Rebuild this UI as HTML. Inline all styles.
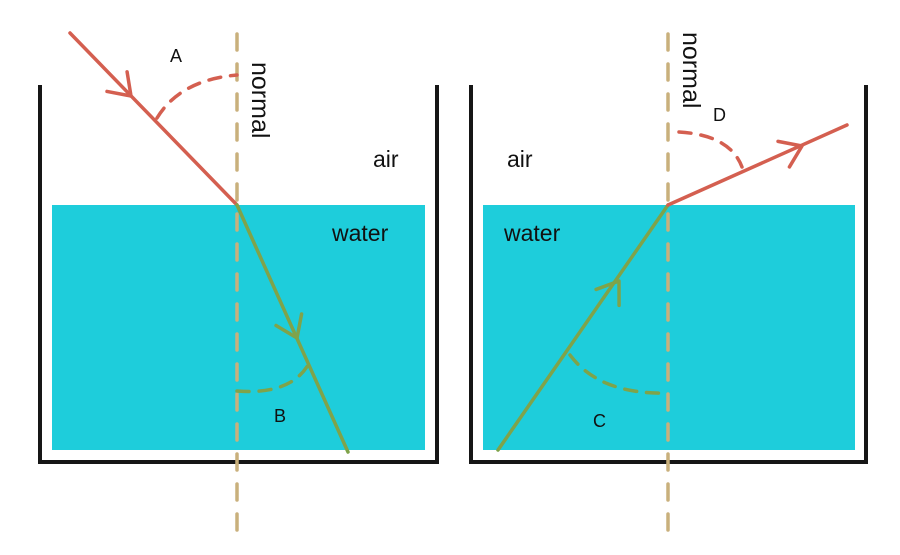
<!DOCTYPE html>
<html><head><meta charset="utf-8"><style>
html,body{margin:0;padding:0;background:#fff;width:900px;height:555px;overflow:hidden}
svg text{font-family:"Liberation Sans",sans-serif;fill:#111}
</style></head><body>
<svg width="900" height="555" viewBox="0 0 900 555">
<rect x="52" y="205" width="373" height="245" fill="#1ecddb"/>
<rect x="483" y="205" width="372" height="245" fill="#1ecddb"/>
<g fill="none" stroke="#161616" stroke-width="4">
<polyline points="40,85 40,462 437,462 437,85"/>
<polyline points="471,85 471,462 866,462 866,85"/>
</g>
<g stroke="#c9b07c" stroke-width="3.5" stroke-dasharray="16,14" fill="none" stroke-linecap="round">
<line x1="237" y1="34" x2="237" y2="538"/>
<line x1="668" y1="34" x2="668" y2="538"/>
</g>
<g fill="none" stroke-width="3.5" stroke-linecap="round" stroke-linejoin="round">
<line x1="70" y1="33" x2="237" y2="205" stroke="#d45f50"/>
<path d="M-20,-14 L0,0 L-20,14" transform="translate(131,96) rotate(45.8)" stroke="#d45f50"/>
<path d="M157,118 Q180,80 237,75" stroke="#d45f50" stroke-dasharray="12,10"/>
<line x1="237" y1="205" x2="348" y2="452" stroke="#7fa34a"/>
<path d="M-20,-14 L0,0 L-20,14" transform="translate(297,338) rotate(65.8)" stroke="#7fa34a"/>
<path d="M237,391 Q290,395 308,365" stroke="#7fa34a" stroke-dasharray="12,10"/>
<line x1="498" y1="450" x2="668" y2="205" stroke="#7fa34a"/>
<path d="M-20,-14 L0,0 L-20,14" transform="translate(619,281) rotate(-55.2)" stroke="#7fa34a"/>
<path d="M570,355 Q600,395 668,393" stroke="#7fa34a" stroke-dasharray="12,10"/>
<line x1="668" y1="205" x2="847" y2="125" stroke="#d45f50"/>
<path d="M-20,-14 L0,0 L-20,14" transform="translate(802,146) rotate(-24)" stroke="#d45f50"/>
<path d="M679,132 Q730,135 742,167" stroke="#d45f50" stroke-dasharray="12,10"/>
</g>
<g font-size="23">
<text x="373" y="167">air</text>
<text x="332" y="241">water</text>
<text x="507" y="167">air</text>
<text x="504" y="241">water</text>
</g>
<g font-size="25">
<text transform="translate(252,62) rotate(90)">normal</text>
<text transform="translate(683,32) rotate(90)">normal</text>
</g>
<g font-size="18">
<text x="170" y="62">A</text>
<text x="274" y="422">B</text>
<text x="593" y="427">C</text>
<text x="713" y="121">D</text>
</g>
</svg>
</body></html>
